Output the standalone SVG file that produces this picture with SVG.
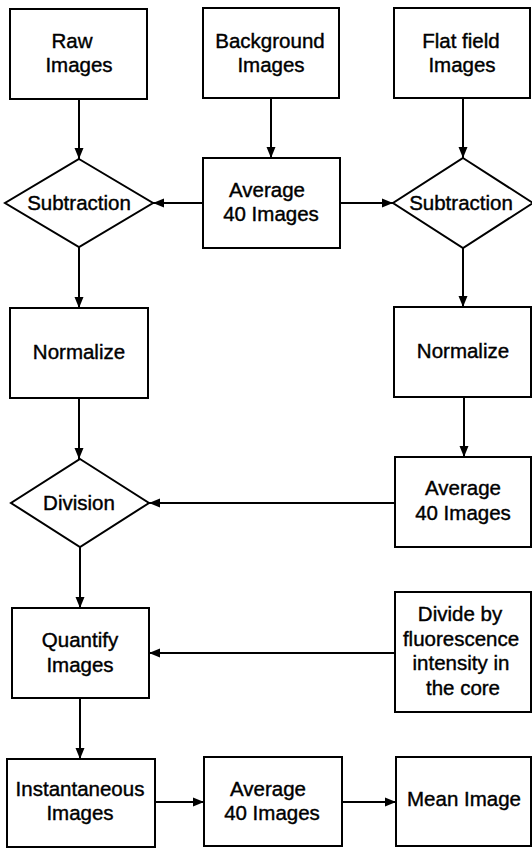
<svg xmlns="http://www.w3.org/2000/svg" width="532" height="848" viewBox="0 0 532 848">
<defs>
<style>
.n{fill:#fff;stroke:#000;stroke-width:2}
.t{font-family:"Liberation Sans",Arial,sans-serif;font-size:20.5px;fill:#000;stroke:#000;stroke-width:0.4;text-anchor:middle}
.c{fill:none;stroke:#000;stroke-width:2;marker-end:url(#ah)}
</style>
<marker id="ah" markerUnits="userSpaceOnUse" markerWidth="12" markerHeight="10" refX="11" refY="5" orient="auto">
<path d="M0,0.5 L11,5 L0,9.5 z" fill="#000"/>
</marker>
</defs>
<rect width="532" height="848" fill="#fff"/>
<g id="connectors">
<path class="c" d="M79,99 V159"/>
<path class="c" d="M271,98 V158"/>
<path class="c" d="M463,98 V158"/>
<path class="c" d="M203,203 H153"/>
<path class="c" d="M340,203 H393"/>
<path class="c" d="M79,247 V308"/>
<path class="c" d="M463,248 V307"/>
<path class="c" d="M79,398 V459"/>
<path class="c" d="M464,397 V457"/>
<path class="c" d="M395,503 H149"/>
<path class="c" d="M80,547 V608"/>
<path class="c" d="M395,653 H149"/>
<path class="c" d="M80,698 V759"/>
<path class="c" d="M155,802 H204"/>
<path class="c" d="M342,802 H396"/>
</g>
<g id="raw"><rect class="n" x="10" y="9" width="137" height="90"/><text class="t" x="72" y="48">Raw</text><text class="t" x="79" y="72">Images</text></g>
<g id="background"><rect class="n" x="203" y="8" width="136" height="90"/><text class="t" x="270" y="48">Background</text><text class="t" x="271" y="72">Images</text></g>
<g id="flatfield"><rect class="n" x="394" y="8" width="136" height="90"/><text class="t" x="461" y="48">Flat field</text><text class="t" x="462" y="72">Images</text></g>
<g id="subtraction1"><polygon class="n" points="79,159 153,203 79,247 5,203"/><text class="t" x="79" y="210">Subtraction</text></g>
<g id="average1"><rect class="n" x="203" y="158" width="137" height="90"/><text class="t" x="267" y="197">Average</text><text class="t" x="271" y="221">40 Images</text></g>
<g id="subtraction2"><polygon class="n" points="463,158 533,203 463,248 393,203"/><text class="t" x="461" y="210">Subtraction</text></g>
<g id="normalize1"><rect class="n" x="10" y="308" width="138" height="90"/><text class="t" x="79" y="359">Normalize</text></g>
<g id="normalize2"><rect class="n" x="394" y="307" width="137" height="90"/><text class="t" x="463" y="358">Normalize</text></g>
<g id="average2"><rect class="n" x="395" y="457" width="136" height="90"/><text class="t" x="463" y="495">Average</text><text class="t" x="463" y="520">40 Images</text></g>
<g id="division"><polygon class="n" points="80,459 149,503 80,547 11,503"/><text class="t" x="79" y="510">Division</text></g>
<g id="quantify"><rect class="n" x="12" y="608" width="137" height="90"/><text class="t" x="80" y="647">Quantify</text><text class="t" x="80" y="672">Images</text></g>
<g id="divide"><rect class="n" x="395" y="592" width="136" height="120"/><text class="t" x="460" y="621">Divide by</text><text class="t" x="461" y="645.5">fluorescence</text><text class="t" x="461" y="670">intensity in</text><text class="t" x="463" y="694.5">the core</text></g>
<g id="instantaneous"><rect class="n" x="7" y="759" width="148" height="88"/><text class="t" x="80" y="796">Instantaneous</text><text class="t" x="80" y="820">Images</text></g>
<g id="average3"><rect class="n" x="204" y="757" width="138" height="89"/><text class="t" x="268" y="796">Average</text><text class="t" x="272" y="820">40 Images</text></g>
<g id="mean"><rect class="n" x="396" y="757" width="135" height="89"/><text class="t" x="464" y="806">Mean Image</text></g>
</svg>
